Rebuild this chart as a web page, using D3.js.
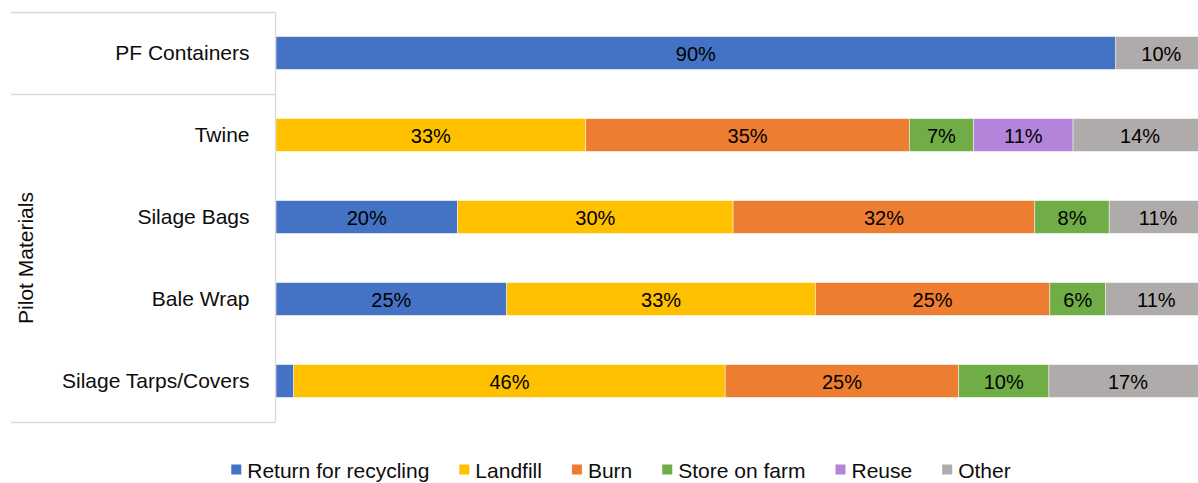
<!DOCTYPE html>
<html>
<head>
<meta charset="utf-8">
<script src="https://cdn.jsdelivr.net/npm/d3@7"></script>
<style>
  html, body { margin: 0; padding: 0; background: #fff; }
  svg { display: block; font-family: "Liberation Sans", Arial, sans-serif; }
</style>
</head>
<body>
<svg id="chart" width="1198" height="483"></svg>
<script>
// ---- data ----
const categories = ["PF Containers", "Twine", "Silage Bags", "Bale Wrap", "Silage Tarps/Covers"];
const seriesNames = ["Return for recycling", "Landfill", "Burn", "Store on farm", "Reuse", "Other"];
const returnForRecycling = [90.2, 0, 19.5, 24.8, 1.9];
const landfill           = [0, 33.3, 29.6, 33.2, 46.4];
const burn               = [0, 34.8, 32.4, 25.2, 25.1];
const storeOnFarm        = [0, 6.9, 8.0, 6.0, 9.7];
const reuse              = [0, 10.7, 0, 0, 0];
const other              = [9.8, 14.4, 10.5, 10.9, 17.0];
const seriesColors = ["#4472C4", "#FFC000", "#ED7D31", "#70AD47", "#B384DA", "#AFABAB"];
const groups = [
  { label: "", members: ["PF Containers"] },
  { label: "Pilot Materials", members: ["Twine", "Silage Bags", "Bale Wrap", "Silage Tarps/Covers"] }
];

// ---- build table ----
const seriesValues = [returnForRecycling, landfill, burn, storeOnFarm, reuse, other];
const table = categories.map((c, i) => {
  const row = { category: c };
  seriesNames.forEach((s, j) => row[s] = seriesValues[j][i]);
  return row;
});

const svg = d3.select("#chart");
const plot = { left: 276, right: 1207, top: 12, bottom: 422 };

const x = d3.scaleLinear().domain([0, 1]).range([plot.left, plot.right]);
const y = d3.scaleBand().domain(categories).range([plot.top, plot.bottom])
  .paddingInner(0.6).paddingOuter(0.3);
const color = d3.scaleOrdinal().domain(seriesNames).range(seriesColors);

const stack = d3.stack().keys(seriesNames).offset(d3.stackOffsetExpand);
const stacked = stack(table);

// bars
const layers = svg.append("g").selectAll("g").data(stacked).join("g")
  .attr("fill", d => color(d.key));
layers.selectAll("rect").data(d => d.map(p => ({ p, key: d.key })))
  .join("rect")
  .attr("x", d => x(d.p[0]))
  .attr("y", d => y(d.p.data.category))
  .attr("width", d => Math.max(0, x(d.p[1]) - x(d.p[0])))
  .attr("height", y.bandwidth())
  .attr("stroke", "#ffffff")
  .attr("stroke-opacity", 0.6)
  .attr("stroke-width", 0.75);

// data labels
const labelData = [];
stacked.forEach(layer => layer.forEach(p => {
  const v = p.data[layer.key];
  if (p[1] - p[0] >= 0.03) labelData.push({ v, cx: (x(p[0]) + x(p[1])) / 2, cy: y(p.data.category) + y.bandwidth() / 2 });
}));
svg.append("g").selectAll("text").data(labelData).join("text")
  .attr("x", d => d.cx)
  .attr("y", d => d.cy + 1)
  .attr("text-anchor", "middle")
  .attr("dominant-baseline", "central")
  .attr("font-size", 20)
  .attr("fill", "#000")
  .text(d => Math.round(d.v) + "%");

// axis line + category labels
const axisG = svg.append("g");
const gridColor = "#d9d9d9";
const axisX = plot.left - 0.5;
const step = y.step();
const halfGap = step * y.paddingInner() / 2;
axisG.append("line")
  .attr("x1", axisX).attr("x2", axisX)
  .attr("y1", plot.top).attr("y2", plot.bottom)
  .attr("stroke", gridColor).attr("stroke-width", 1.3);

const yAxis = d3.axisLeft(y).tickSize(0).tickPadding(26);
const ticksG = svg.append("g").attr("transform", `translate(${axisX},0)`).call(yAxis);
ticksG.select(".domain").remove();
ticksG.selectAll("text")
  .attr("font-size", 21)
  .attr("font-family", "'Liberation Sans', Arial, sans-serif")
  .attr("fill", "#0d0d0d");

// group separators and group labels
const groupLeft = 11;
const boundaries = [plot.top];
groups.forEach(g => {
  const last = g.members[g.members.length - 1];
  const idx = categories.indexOf(last);
  const b = idx === categories.length - 1 ? plot.bottom : y(last) + y.bandwidth() + halfGap;
  boundaries.push(b);
});
axisG.selectAll("line.sep").data(boundaries).join("line")
  .attr("class", "sep")
  .attr("x1", groupLeft).attr("x2", axisX)
  .attr("y1", d => Math.round(d) + 0.5).attr("y2", d => Math.round(d) + 0.5)
  .attr("stroke", gridColor).attr("stroke-width", 1.3);

groups.forEach((g, i) => {
  if (!g.label) return;
  const cy = (boundaries[i] + boundaries[i + 1]) / 2;
  svg.append("text")
    .attr("transform", `translate(25,${cy}) rotate(-90)`)
    .attr("text-anchor", "middle")
    .attr("dominant-baseline", "central")
    .attr("font-size", 21)
    .attr("fill", "#0d0d0d")
    .text(g.label);
});

// legend
const legend = svg.append("g");
const items = legend.selectAll("g").data(seriesNames).join("g");
items.append("rect").attr("width", 10).attr("height", 10).attr("y", -5)
  .attr("fill", d => color(d));
items.append("text").attr("x", 16).attr("y", 1)
  .attr("dominant-baseline", "central")
  .attr("font-size", 21)
  .attr("fill", "#0d0d0d")
  .text(d => d);
const itemGap = 30;
let offs = [], cur = 0;
items.each(function () {
  const w = 16 + this.querySelector("text").getComputedTextLength();
  offs.push(cur);
  cur += w + itemGap;
});
const total = cur - itemGap;
const legendCenter = 621;
const startX = legendCenter - total / 2;
items.attr("transform", (d, i) => `translate(${startX + offs[i]},469.5)`);
</script>
</body>
</html>
